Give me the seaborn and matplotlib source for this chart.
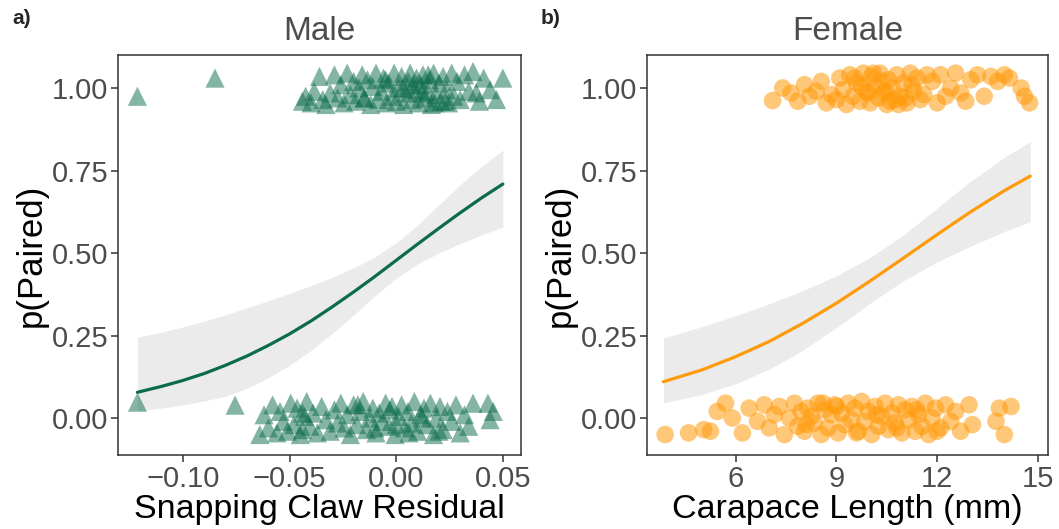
import matplotlib
matplotlib.use("Agg")
import matplotlib.pyplot as plt
import seaborn as sns
import pandas as pd

# ---------------- data ----------------
# Male: paired (y ~ 1) and unpaired (y ~ 0), jittered
male_paired_x = [-0.1214, -0.0850,
    -0.0440, -0.0425, -0.0400, -0.0385, -0.0360, -0.0345, -0.0330, -0.0310, -0.0290, -0.0275,
    -0.0260, -0.0245, -0.0230, -0.0215, -0.0200, -0.0190, -0.0175, -0.0160, -0.0150, -0.0135,
    -0.0120, -0.0110, -0.0095, -0.0085, -0.0070, -0.0060, -0.0045, -0.0035, -0.0020, -0.0010,
    0.0000, 0.0010, 0.0025, 0.0035, 0.0045, 0.0055, 0.0065, 0.0075, 0.0085, 0.0095,
    0.0105, 0.0115, 0.0125, 0.0135, 0.0145, 0.0155, 0.0165, 0.0175, 0.0185, 0.0200,
    0.0210, 0.0220, 0.0235, 0.0245, 0.0260, 0.0270, 0.0285, 0.0300, 0.0320, 0.0340,
    0.0360, 0.0375, 0.0390, 0.0410, 0.0440, 0.0470, 0.0500,
    0.0030, -0.0150, 0.0150, 0.0230, 0.0080, -0.0050, 0.0120, 0.0180]
male_paired_y = [0.975, 1.030,
    0.960, 0.975, 0.955, 0.990, 1.035, 0.965, 0.950, 0.985, 1.040, 0.970,
    1.010, 0.955, 1.045, 0.980, 1.020, 0.960, 1.000, 1.040, 0.970, 1.025,
    0.950, 1.005, 1.045, 0.965, 0.990, 1.030, 0.955, 1.015, 0.975, 1.045,
    0.960, 1.000, 1.035, 0.950, 0.985, 1.020, 1.045, 0.965, 0.995, 1.030,
    0.955, 1.010, 1.040, 0.970, 0.990, 1.025, 0.950, 1.045, 0.980, 1.015,
    0.960, 1.035, 0.995, 0.955, 1.045, 0.975, 1.020, 0.965, 1.040, 0.990,
    1.050, 0.985, 0.960, 1.030, 0.995, 0.965, 1.030,
    1.000, 0.970, 1.040, 0.960, 1.010, 1.025, 0.985, 0.955]
male_unpaired_x = [-0.1214, -0.0756,
    -0.0640, -0.0620, -0.0600, -0.0580, -0.0560, -0.0545, -0.0530, -0.0510, -0.0495, -0.0480,
    -0.0465, -0.0450, -0.0440, -0.0430, -0.0420, -0.0405, -0.0390, -0.0370, -0.0350, -0.0330,
    -0.0310, -0.0290, -0.0275, -0.0260, -0.0245, -0.0230, -0.0215, -0.0200, -0.0185, -0.0170,
    -0.0155, -0.0140, -0.0125, -0.0110, -0.0095, -0.0080, -0.0065, -0.0050, -0.0035, -0.0020,
    -0.0005, 0.0010, 0.0025, 0.0040, 0.0055, 0.0070, 0.0085, 0.0100, 0.0115, 0.0130,
    0.0145, 0.0160, 0.0175, 0.0190, 0.0205, 0.0220, 0.0240, 0.0260, 0.0280, 0.0300,
    0.0320, 0.0340, 0.0360, 0.0430, 0.0440, 0.0455,
    -0.0100, -0.0030, 0.0060, 0.0120, -0.0180, 0.0200, -0.0440, 0.0000]
male_unpaired_y = [0.048, 0.039,
    -0.050, 0.010, -0.030, 0.040, -0.045, 0.020, -0.010, -0.040, 0.045, -0.020,
    0.030, -0.050, -0.035, 0.005, 0.050, -0.025, 0.015, -0.045, 0.035, -0.005,
    -0.040, 0.025, -0.015, 0.045, -0.030, 0.010, -0.050, 0.040, -0.020, 0.020,
    0.050, -0.035, 0.000, 0.030, -0.045, 0.015, -0.010, 0.045, -0.025, 0.035,
    -0.050, 0.005, 0.040, -0.030, 0.020, -0.015, 0.050, -0.040, 0.010, 0.030,
    -0.020, 0.045, -0.050, 0.000, 0.035, -0.035, 0.020, -0.010, 0.040, -0.045,
    0.010, -0.025, 0.045, 0.045, -0.005, 0.020,
    -0.030, 0.025, -0.045, 0.000, 0.040, -0.040, 0.015, -0.020]

# Female: paired / unpaired vs carapace length (mm)
female_paired_x = [7.10, 7.40, 7.65, 7.85, 8.05, 8.20, 8.40, 8.55, 8.70, 8.85,
    9.00, 9.10, 9.20, 9.30, 9.40, 9.50, 9.60, 9.70, 9.80, 9.90,
    10.00, 10.05, 10.15, 10.25, 10.30, 10.40, 10.50, 10.55, 10.65, 10.75,
    10.80, 10.90, 11.00, 11.10, 11.20, 11.30, 11.40, 11.50, 11.60, 11.70,
    11.85, 12.00, 12.10, 12.25, 12.40, 12.55, 12.70, 12.85, 13.00, 13.20,
    13.40, 13.60, 13.80, 14.00, 14.15, 14.50, 14.60, 14.75,
    9.95, 10.35, 10.60, 10.10, 9.75, 11.05, 10.45, 9.55, 11.25, 10.85]
female_paired_y = [0.962, 1.000, 0.985, 0.960, 1.010, 0.975, 0.990, 1.020, 0.955, 0.980,
    0.965, 1.030, 0.995, 0.950, 1.040, 0.975, 1.015, 0.960, 1.045, 0.990,
    0.955, 1.035, 1.005, 0.970, 1.045, 0.985, 0.950, 1.025, 1.000, 0.965,
    1.040, 0.975, 1.015, 0.955, 1.045, 0.990, 1.030, 0.965, 0.980, 1.040,
    1.020, 0.955, 1.040, 0.975, 1.000, 1.045, 0.985, 0.960, 1.025, 1.040,
    0.975, 1.035, 1.020, 1.040, 1.030, 1.000, 0.975, 0.955,
    0.985, 1.020, 0.960, 1.045, 1.005, 0.970, 0.990, 1.030, 1.010, 0.950]
female_unpaired_x = [3.90, 4.60, 5.05, 5.25, 5.45, 5.70, 5.90, 6.20, 6.40, 6.65,
    6.85, 7.00, 7.15, 7.30, 7.45, 7.60, 7.75, 7.85, 7.95, 8.05,
    8.15, 8.25, 8.35, 8.45, 8.55, 8.65, 8.75, 8.85, 8.95, 9.05,
    9.15, 9.25, 9.35, 9.45, 9.55, 9.65, 9.75, 9.85, 9.95, 10.05,
    10.15, 10.25, 10.35, 10.45, 10.55, 10.65, 10.75, 10.85, 10.95, 11.05,
    11.15, 11.25, 11.35, 11.45, 11.55, 11.65, 11.75, 11.85, 11.95, 12.10,
    12.25, 12.40, 12.55, 12.70, 12.95, 13.05, 13.75, 13.85, 14.00, 14.20,
    8.10, 9.00, 9.60, 10.20, 10.80, 11.40, 12.00, 8.60]
female_unpaired_y = [-0.050, -0.045, -0.035, -0.040, 0.020, 0.045, 0.000, -0.045, 0.030, -0.010,
    0.040, -0.030, 0.010, 0.035, -0.050, 0.000, 0.045, -0.025, 0.020, -0.040,
    0.030, 0.005, -0.015, 0.045, -0.050, 0.025, -0.030, 0.010, 0.040, -0.045,
    0.015, -0.020, 0.045, -0.005, 0.030, -0.040, 0.050, -0.010, 0.020, -0.050,
    0.035, -0.025, 0.005, 0.045, -0.035, 0.015, -0.015, 0.040, -0.045, 0.025,
    -0.005, 0.035, -0.040, 0.010, -0.025, 0.045, -0.050, 0.000, 0.030, -0.030,
    0.040, -0.010, 0.020, -0.040, 0.040, -0.020, -0.010, 0.030, -0.050, 0.035,
    -0.020, 0.035, -0.045, 0.010, -0.030, 0.025, -0.040, 0.045]

# Fitted logistic curves and confidence bands
male_fit_x = [-0.1214, -0.110, -0.100, -0.090, -0.080, -0.070, -0.060, -0.050, -0.040,
              -0.030, -0.020, -0.010, 0.000, 0.010, 0.020, 0.030, 0.040, 0.050]
male_fit_p = [0.078, 0.096, 0.114, 0.135, 0.160, 0.188, 0.220, 0.255, 0.294,
              0.337, 0.382, 0.429, 0.478, 0.527, 0.575, 0.622, 0.667, 0.709]
male_band_lo = [0.022, 0.030, 0.040, 0.052, 0.066, 0.090, 0.122, 0.160, 0.205,
                0.257, 0.312, 0.370, 0.424, 0.467, 0.500, 0.529, 0.555, 0.579]
male_band_hi = [0.245, 0.260, 0.276, 0.294, 0.313, 0.334, 0.355, 0.378, 0.401,
                0.427, 0.455, 0.488, 0.531, 0.585, 0.646, 0.707, 0.763, 0.812]

female_fit_x = [3.85, 5.0, 6.0, 7.0, 8.0, 9.0, 10.0, 11.0, 12.0, 13.0, 14.0, 14.77]
female_fit_p = [0.110, 0.146, 0.186, 0.232, 0.287, 0.348, 0.415, 0.485, 0.556, 0.625, 0.689, 0.733]
female_band_lo = [0.046, 0.071, 0.104, 0.148, 0.205, 0.274, 0.348, 0.416, 0.473, 0.521, 0.565, 0.595]
female_band_hi = [0.242, 0.277, 0.310, 0.346, 0.386, 0.431, 0.486, 0.555, 0.636, 0.718, 0.790, 0.837]

panel_titles = ["Male", "Female"]
panel_tags = ["a)", "b)"]
x_labels = ["Snapping Claw Residual", "Carapace Length (mm)"]
y_label = "p(Paired)"
male_xticks = [-0.10, -0.05, 0.00, 0.05]
male_xticklabels = ["\u22120.10", "\u22120.05", "0.00", "0.05"]
female_xticks = [6, 9, 12, 15]
y_ticks = [0.00, 0.25, 0.50, 0.75, 1.00]

# ---------------- drawing ----------------
sns.set_theme(style="white")
plt.rcParams['font.family'] = ['Liberation Sans', 'DejaVu Sans']

GREEN = "#0b6b4c"
ORANGE = "#ff9a0a"
BAND = "#ebebeb"
GREY_TXT = "#4d4d4d"

fig = plt.figure(figsize=(10.59, 5.29), dpi=100)
ax1 = fig.add_axes([118/1059, 1-455/529, (521-118)/1059, 400/529])
ax2 = fig.add_axes([647/1059, 1-455/529, (1048-647)/1059, 400/529])

male_pts = pd.DataFrame({"x": male_paired_x + male_unpaired_x,
                         "y": male_paired_y + male_unpaired_y})
female_pts = pd.DataFrame({"x": female_paired_x + female_unpaired_x,
                           "y": female_paired_y + female_unpaired_y})

# male panel
ax1.fill_between(male_fit_x, male_band_lo, male_band_hi, color=BAND, lw=0, zorder=1)
sns.scatterplot(data=male_pts, x="x", y="y", ax=ax1, marker="^", s=190, color=GREEN,
                alpha=0.5, edgecolor="none", linewidth=0, zorder=2)
sns.lineplot(x=male_fit_x, y=male_fit_p, ax=ax1, color=GREEN, lw=2.3, zorder=3)
ax1.set_xlim(-0.1305, 0.0585)
ax1.set_xticks(male_xticks)
ax1.set_xticklabels(male_xticklabels)

# female panel
ax2.fill_between(female_fit_x, female_band_lo, female_band_hi, color=BAND, lw=0, zorder=1)
sns.scatterplot(data=female_pts, x="x", y="y", ax=ax2, marker="o", s=160, color=ORANGE,
                alpha=0.55, edgecolor="none", linewidth=0, zorder=2)
sns.lineplot(x=female_fit_x, y=female_fit_p, ax=ax2, color=ORANGE, lw=2.3, zorder=3)
ax2.set_xlim(3.36, 15.3)
ax2.set_xticks(female_xticks)
ax2.set_xticklabels([str(t) for t in female_xticks])

for ax, title, xl in zip([ax1, ax2], panel_titles, x_labels):
    ax.set_ylim(-0.112, 1.10)
    ax.set_yticks(y_ticks)
    ax.set_yticklabels([f"{t:.2f}" for t in y_ticks])
    ax.set_title(title, fontsize=24, color=GREY_TXT, pad=11)
    ax.set_xlabel(xl, fontsize=24.5, color="black", labelpad=1)
    ax.set_ylabel(y_label, fontsize=25, color="black", labelpad=3)
    ax.tick_params(axis="both", which="major", labelsize=21, labelcolor=GREY_TXT,
                   direction="out", length=5, width=1.1, color="#333333", pad=2,
                   bottom=True, left=True)
    for sp in ax.spines.values():
        sp.set_color("#333333")
        sp.set_linewidth(1.1)
    ax.grid(False)

fig.text(12/1059, 1-19/529, panel_tags[0], fontsize=15, fontweight="bold", va="center", ha="left")
fig.text(541/1059, 1-19/529, panel_tags[1], fontsize=15, fontweight="bold", va="center", ha="left")

fig.savefig("out.png", dpi=100)
